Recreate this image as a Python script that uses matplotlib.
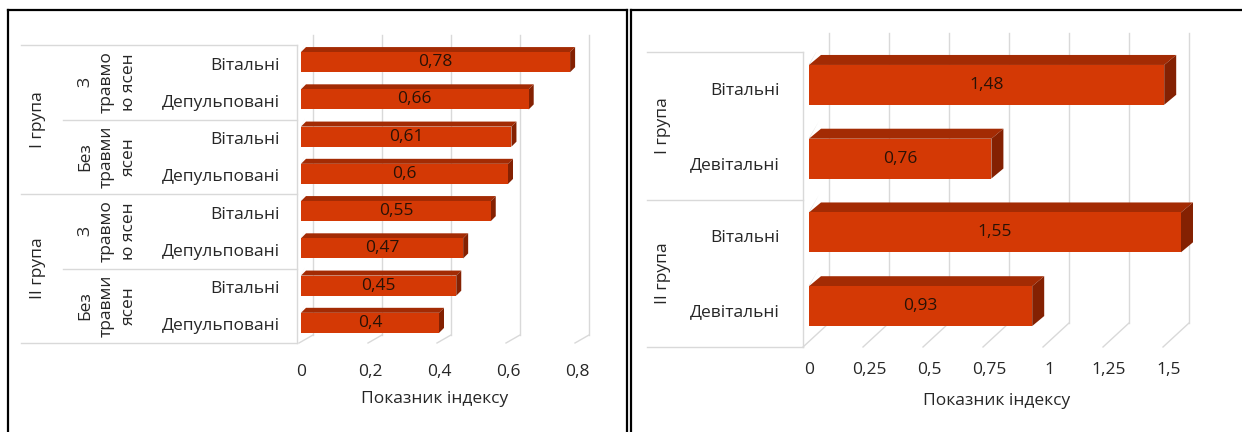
import matplotlib.pyplot as plt
import matplotlib.transforms as mtransforms
from matplotlib.patches import Polygon, Rectangle
from matplotlib.lines import Line2D

plt.rcParams['font.family'] = ['Open Sans', 'DejaVu Sans']

# ліва діаграма
left_labels = ["Вітальні", "Депульповані"] * 4
left_values = [0.78, 0.66, 0.61, 0.6, 0.55, 0.47, 0.45, 0.4]
left_subgroups = ["З\nтравмо\nю ясен", "Без\nтравми\nясен", "З\nтравмо\nю ясен", "Без\nтравми\nясен"]
left_groups = ["I група", "II група"]
left_ticks = [0, 0.2, 0.4, 0.6, 0.8]

# права діаграма
right_labels = ["Вітальні", "Девітальні", "Вітальні", "Девітальні"]
right_values = [1.48, 0.76, 1.55, 0.93]
right_groups = ["I група", "II група"]
right_ticks = [0, 0.25, 0.5, 0.75, 1, 1.25, 1.5]

xlabel = "Показник індексу"

FRONT = "#d43905"
TOP = "#a32b04"
SIDE = "#842102"
GRID = "#d9d9d9"
TEXT = "#262626"
VALTEXT = "#2a1206"
FS = 12.5

W, H = 1242, 432
fig = plt.figure(figsize=(W / 100, H / 100), dpi=100)


def px_axes(x0, x1, y0, y1):
    return fig.add_axes([x0 / W, 1 - y1 / H, (x1 - x0) / W, (y1 - y0) / H])


def fmt(v):
    return f"{v:g}".replace(".", ",")


def draw_chart(ax, values, labels, ticks, xmax, box_x, bar_dx, bar_dy,
               shift_px, wall_dx, wall_dy, wall_top_px, label_dx):
    n = len(values)
    ax.set_xlim(0, xmax)
    ax.set_ylim(n - 0.5, -0.5)
    for s in ax.spines.values():
        s.set_visible(False)

    bb = ax.get_position()
    pxx = bb.width * W / xmax      # пікселів на одиницю x
    pxy = bb.height * H / n        # пікселів на рядок
    ddx, ddy = bar_dx / pxx, bar_dy / pxy
    hh = 0.27

    # задня стінка і підлога
    bottom = n - 0.5
    back_bottom = bottom - wall_dy / pxy
    top = -0.5 - wall_top_px / pxy
    for t in ticks:
        xb = t + wall_dx / pxx
        xf = t + label_dx / pxx
        ax.plot([xb, xb], [top, back_bottom], color=GRID, lw=1, clip_on=False, zorder=1)
        ax.plot([xb, xf], [back_bottom, bottom], color=GRID, lw=1, clip_on=False, zorder=1)

    # 3D-смуги
    for i, v in enumerate(values):
        fc = i - shift_px / pxy
        y0, y1 = fc - hh, fc + hh
        ax.add_patch(Polygon([(0, y0), (-0.2 * ddx, y0 + 0.05), (0.8 * ddx, y0 - 1.7 * ddy)],
                             closed=True, color="#8c8c8c", alpha=0.85, lw=0, zorder=2))
        ax.add_patch(Polygon([(0, y0), (v, y0), (v + ddx, y0 - ddy), (ddx, y0 - ddy)],
                             closed=True, color=TOP, lw=0, zorder=3))
        ax.add_patch(Polygon([(v, y0), (v + ddx, y0 - ddy), (v + ddx, y1 - ddy), (v, y1)],
                             closed=True, color=SIDE, lw=0, zorder=3))
        ax.add_patch(Rectangle((0, y0), v, y1 - y0, color=FRONT, lw=0, zorder=4))
        ax.text(v / 2, fc, fmt(v), ha="center", va="center", fontsize=FS,
                color=VALTEXT, zorder=5)

    # рамка категорій
    tr = mtransforms.blended_transform_factory(fig.transFigure, ax.transData)
    ax.add_artist(Line2D([box_x / W, box_x / W], [-0.5, n - 0.5], color=GRID, lw=1,
                         transform=tr, clip_on=False))

    ax.set_yticks(range(n), labels)
    ax.set_xticks(ticks, [fmt(t) for t in ticks])
    ax.tick_params(length=0, labelsize=FS, labelcolor=TEXT)
    off = mtransforms.ScaledTranslation(label_dx / 100, 0, fig.dpi_scale_trans)
    for lab in ax.get_xticklabels():
        lab.set_transform(lab.get_transform() + off)
    return tr


# ---- ліва ----
ax1 = px_axes(301, 301 + 0.9 * 345, 45, 343)
tr1 = draw_chart(ax1, left_values, left_labels, left_ticks, 0.9, 297,
                 5, 5, 1.5, 12, 8, 10, -2)
ax1.tick_params(axis="y", pad=15)
ax1.tick_params(axis="x", pad=15)
ax1.set_xlabel(xlabel, fontsize=FS, color=TEXT)
ax1.xaxis.set_label_coords((435 - 301) / (0.9 * 345), (343 - 391) / 298)

for yb, x0 in [(-0.5, 21), (1.5, 63), (3.5, 21), (5.5, 63), (7.5, 21)]:
    ax1.add_artist(Line2D([x0 / W, 297 / W], [yb, yb], color=GRID, lw=1,
                          transform=tr1, clip_on=False))
for k, g in enumerate(left_groups):
    ax1.text(38 / W, 1.5 + 4 * k, g, transform=tr1, rotation=90, ha="center",
             va="center", fontsize=FS, color=TEXT)
for k, s in enumerate(left_subgroups):
    ax1.text(107 / W, 0.5 + 2 * k, s, transform=tr1, rotation=90, ha="center",
             va="center", multialignment="center", linespacing=1.5,
             fontsize=FS, color=TEXT)

# ---- права ----
ax2 = px_axes(809, 809 + 1.75 * 240, 52, 347)
tr2 = draw_chart(ax2, right_values, right_labels, right_ticks, 1.75, 803,
                 12, 10, 4, 20, 24, 19, -6)
ax2.tick_params(axis="y", pad=21)
ax2.tick_params(axis="x", pad=11)
ax2.set_xlabel(xlabel, fontsize=FS, color=TEXT)
ax2.xaxis.set_label_coords((997 - 809) / (1.75 * 240), (347 - 393) / 295)

for yb in [-0.5, 1.5, 3.5]:
    ax2.add_artist(Line2D([647 / W, 803 / W], [yb, yb], color=GRID, lw=1,
                          transform=tr2, clip_on=False))
for k, g in enumerate(right_groups):
    ax2.text(663 / W, 0.5 + 2 * k, g, transform=tr2, rotation=90, ha="center",
             va="center", fontsize=FS, color=TEXT)

# рамки таблиці документа
for xs, ys in [([8, 8], [10, 432]), ([8, 627], [10, 10]), ([627, 627], [10, 432]),
               ([631, 631], [10, 432]), ([631, 1242], [10, 10])]:
    fig.add_artist(Line2D([x / W for x in xs], [1 - y / H for y in ys],
                          color="black", lw=1.6))

fig.savefig("out.png", dpi=100)
